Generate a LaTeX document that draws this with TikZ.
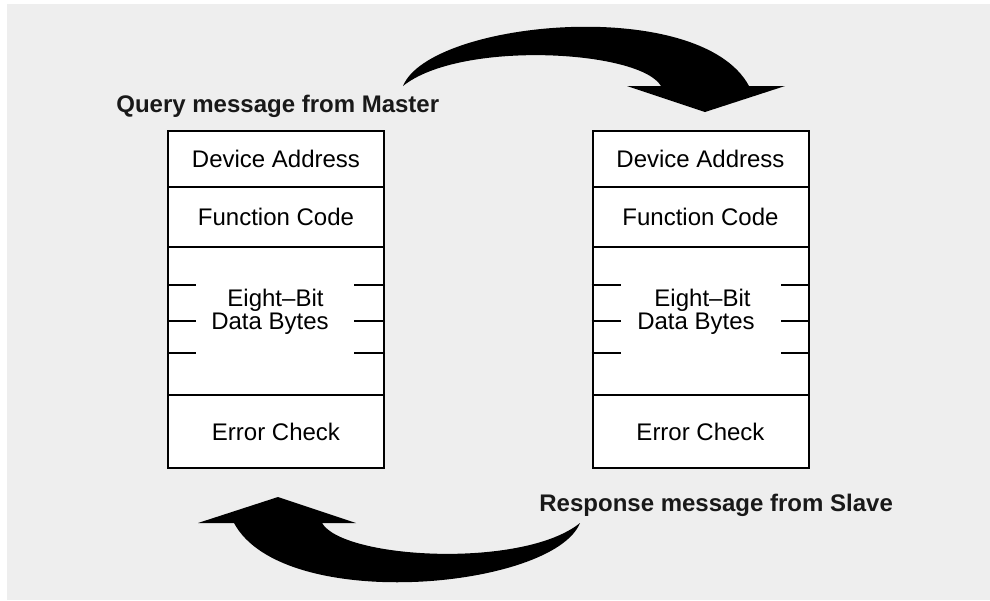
\documentclass[tikz,border=0pt]{standalone}
\usepackage{fontspec}
\setmainfont{Liberation Sans}
\usetikzlibrary{calc}
\definecolor{bggray}{HTML}{EEEEEE}
\begin{document}
\begin{tikzpicture}[x=0.5pt,y=-0.5pt,
  cell/.style={draw=black, line width=1pt, fill=white, minimum width=108pt, inner sep=0pt, font=\fontsize{12}{10}\selectfont},
  inner/.style={inner sep=0pt, anchor=base, font=\fontsize{12}{10}\selectfont},
  tickline/.style={line width=0.9pt},
  lbl/.style={inner sep=0pt, anchor=base west, font=\fontsize{12}{14}\selectfont\bfseries, text=black!90},
  bigarrow/.style={fill=black, draw=none}]
\useasboundingbox (0,0) rectangle (990,600);
\fill[white] (0,0) rectangle (990,600);
\fill[bggray] (7,4) rectangle (990,600);

% left frame (query)
\node[cell, minimum height=28pt]   (l1) at (276,159)   {Device Address};
\node[cell, minimum height=30pt]   (l2) at (276,217)   {Function Code};
\node[cell, minimum height=74pt]   (l3) at (276,321)   {};
\node[cell, minimum height=36.5pt] (l4) at (276,431.5) {Error Check};
\node[inner, text depth=0pt] (l3a) at (275.5,306) {Eight–Bit};
\node[inner, text height=6.5pt] (l3b) at (270,329) {Data Bytes};
\foreach \dy in {-36,0,32} {
  \draw[tickline] ($(l3.west)+(0,\dy)$) -- ++(29,0);
  \draw[tickline] ($(l3.east)+(0,\dy)$) -- ++(-31,0);
}

% right frame (response)
\node[cell, minimum height=28pt]   (r1) at (700.5,159)   {Device Address};
\node[cell, minimum height=30pt]   (r2) at (700.5,217)   {Function Code};
\node[cell, minimum height=74pt]   (r3) at (700.5,321)   {};
\node[cell, minimum height=36.5pt] (r4) at (700.5,431.5) {Error Check};
\node[inner, text depth=0pt] (r3a) at (702.5,306) {Eight–Bit};
\node[inner, text height=6.5pt] (r3b) at (696,329) {Data Bytes};
\foreach \dy in {-36,0,32} {
  \draw[tickline] ($(r3.west)+(0,\dy)$) -- ++(29,0);
  \draw[tickline] ($(r3.east)+(0,\dy)$) -- ++(-29,0);
}

% labels
\node[lbl] (q) at (116,112) {Query message from Master};
\node[lbl] (s) at (539,511) {Response message from Slave};

% top curved arrow (master -> slave)
\fill[bigarrow] (403,86) .. controls (430,20) and (700,-5) .. (749,86)
  -- (785,86) -- (705,112) -- (627,86) -- (661,86)
  .. controls (640,50) and (460,40) .. (403,86) -- cycle;
% bottom curved arrow (slave -> master), same shape turned round
\fill[bigarrow, rotate around={180:(491.5,304.5)}] (403,86) .. controls (430,20) and (700,-5) .. (749,86)
  -- (785,86) -- (705,112) -- (627,86) -- (661,86)
  .. controls (640,50) and (460,40) .. (403,86) -- cycle;
\end{tikzpicture}
\end{document}
